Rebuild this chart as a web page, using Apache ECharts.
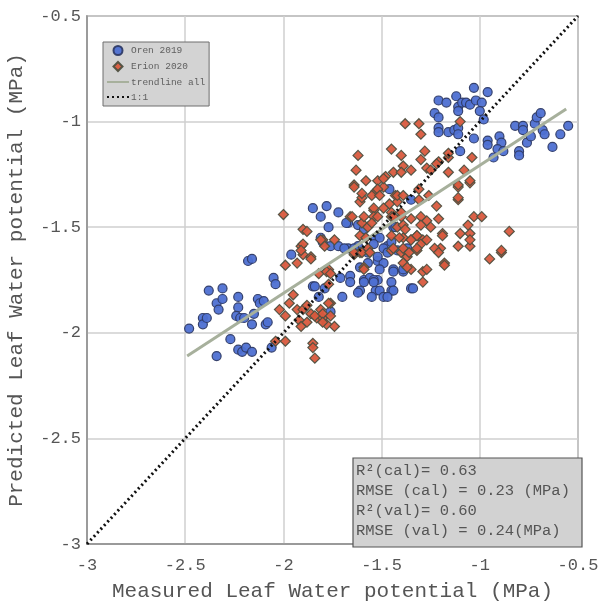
<!DOCTYPE html>
<html>
<head>
<meta charset="utf-8">
<script src="https://cdn.jsdelivr.net/npm/echarts@6/dist/echarts.min.js"></script>
<style>
  html, body { margin: 0; padding: 0; background: #fff; }
  #chart { width: 605px; height: 602px; }
</style>
</head>
<body>
<div id="chart"></div>
<script>
// measured vs predicted leaf water potential (MPa)
const orenPoints = [
  [-2.48,-1.98],[-2.41,-1.93],[-2.41,-1.96],[-2.39,-1.93],[-2.38,-1.80],[-2.34,-1.86],[-2.33,-1.89],[-2.31,-1.79],
  [-2.31,-1.84],[-2.34,-2.11],[-2.27,-2.03],[-2.23,-1.83],[-2.23,-1.88],[-2.24,-1.92],[-2.22,-1.93],[-2.20,-1.93],
  [-2.18,-1.66],[-2.16,-1.65],[-2.16,-1.96],[-2.15,-1.91],[-2.23,-2.08],[-2.21,-2.09],[-2.19,-2.07],[-2.16,-2.09],
  [-2.13,-1.84],[-2.12,-1.86],[-2.10,-1.85],[-2.09,-1.96],[-2.05,-1.74],[-2.04,-1.77],[-2.06,-2.07],[-2.08,-1.95],
  [-1.85,-1.41],[-1.78,-1.40],[-1.81,-1.45],[-1.72,-1.43],[-1.77,-1.50],[-1.81,-1.55],[-1.80,-1.57],[-1.76,-1.59],
  [-1.72,-1.59],[-1.67,-1.60],[-1.67,-1.48],[-1.62,-1.59],[-1.96,-1.63],[-1.85,-1.78],[-1.79,-1.79],[-1.59,-1.75],
  [-1.56,-1.74],[-1.52,-1.75],[-1.57,-1.67],[-1.52,-1.66],[-1.49,-1.67],[-1.44,-1.70],[-1.61,-1.80],[-1.53,-1.80],
  [-1.45,-1.80],[-1.35,-1.79],[-1.39,-1.71],[-1.57,-1.61],[-1.53,-1.55],[-1.51,-1.55],[-1.47,-1.59],[-1.44,-1.50],
  [-1.42,-1.61],[-1.37,-1.60],[-1.62,-1.49],[-1.59,-1.51],[-1.43,-1.50],[-1.69,-1.60],[-1.64,-1.60],[-1.54,-1.58],
  [-1.49,-1.60],[-1.45,-1.57],[-1.57,-1.62],[-1.52,-1.64],[-1.47,-1.62],[-1.61,-1.69],[-1.51,-1.70],[-1.44,-1.71],
  [-1.39,-1.70],[-1.66,-1.73],[-1.54,-1.75],[-1.45,-1.76],[-1.71,-1.74],[-1.66,-1.76],[-1.51,-1.80],[-1.44,-1.80],
  [-1.34,-1.79],[-1.70,-1.83],[-1.62,-1.81],[-1.55,-1.83],[-1.49,-1.83],[-1.47,-1.83],[-1.84,-1.78],[-1.82,-1.83],
  [-1.76,-1.90],[-1.46,-1.32],[-1.35,-1.37],[-1.68,-1.48],[-1.59,-1.76],[-1.54,-1.76],
  [-1.03,-0.84],[-0.96,-0.86],[-1.21,-0.90],[-1.17,-0.91],[-1.12,-0.88],[-1.11,-0.93],[-1.09,-0.91],[-1.07,-0.91],
  [-1.05,-0.92],[-1.02,-0.90],[-0.99,-0.91],[-1.23,-0.96],[-1.21,-0.98],[-1.11,-0.95],[-1.00,-0.95],[-0.98,-0.99],
  [-1.21,-1.03],[-1.21,-1.05],[-1.16,-1.05],[-1.13,-1.04],[-1.11,-1.03],[-1.11,-1.06],[-1.03,-1.08],[-0.96,-1.09],
  [-0.96,-1.11],[-0.90,-1.07],[-0.89,-1.10],[-0.91,-1.13],[-0.88,-1.14],[-0.93,-1.17],[-0.80,-1.14],[-0.80,-1.16],
  [-0.82,-1.02],[-0.78,-1.02],[-0.78,-1.04],[-0.76,-1.10],[-0.74,-1.07],[-0.72,-1.01],[-0.71,-0.98],[-0.69,-0.96],
  [-0.68,-1.04],[-0.67,-1.06],[-0.63,-1.12],[-0.59,-1.06],[-0.55,-1.02],[-1.10,-1.14]
];

const erionPoints = [
  [-1.91,-1.59],[-1.90,-1.63],[-1.86,-1.64],[-1.99,-1.68],[-1.93,-1.67],[-1.95,-1.82],[-1.97,-1.86],[-2.02,-1.89],
  [-1.99,-1.92],[-1.93,-1.89],[-1.90,-1.89],[-1.81,-1.89],[-1.92,-1.94],[-1.88,-1.95],[-1.83,-1.93],[-1.80,-1.93],
  [-1.76,-1.86],[-1.78,-1.96],[-2.04,-2.04],[-1.99,-2.04],[-1.85,-2.05],[-1.85,-2.07],[-1.84,-2.12],[-1.82,-1.72],
  [-1.77,-1.71],[-1.77,-1.77],[-1.80,-1.56],[-1.64,-1.63],[-1.86,-1.91],[-1.84,-1.92],[-1.80,-1.91],[-1.80,-1.95],
  [-1.76,-1.92],[-1.74,-1.97],[-1.91,-1.97],[-1.88,-1.87],
  [-2.00,-1.44],[-1.90,-1.51],[-1.88,-1.52],[-1.90,-1.58],[-1.91,-1.61],[-1.86,-1.65],[-1.77,-1.70],[-1.64,-1.30],
  [-1.58,-1.28],[-1.61,-1.38],[-1.66,-1.45],[-1.60,-1.48],[-1.57,-1.50],[-1.54,-1.42],[-1.53,-1.33],[-1.52,-1.28],
  [-1.49,-1.31],[-1.48,-1.26],[-1.44,-1.24],[-1.43,-1.35],[-1.42,-1.38],[-1.45,-1.43],[-1.42,-1.50],[-1.39,-1.49],
  [-1.39,-1.55],[-1.35,-1.56],[-1.32,-1.54],[-1.29,-1.56],[-1.27,-1.47],[-1.21,-1.46],[-1.30,-1.45],[-1.35,-1.46],
  [-1.32,-1.61],[-1.40,-1.62],[-1.45,-1.61],[-1.57,-1.60],[-1.61,-1.62],[-1.37,-1.64],[-1.29,-1.71],[-1.18,-1.67],
  [-1.20,-1.60],[-1.19,-1.53],[-1.59,-1.69],[-1.35,-1.70],
  [-1.38,-1.01],[-1.31,-1.01],[-1.30,-1.06],[-1.10,-1.00],[-1.45,-1.13],[-1.62,-1.16],[-1.63,-1.23],[-1.40,-1.16],
  [-1.39,-1.21],[-1.35,-1.23],[-1.28,-1.14],[-1.30,-1.18],[-1.27,-1.22],[-1.25,-1.23],[-1.21,-1.19],[-1.16,-1.17],
  [-1.16,-1.24],[-1.08,-1.23],[-1.04,-1.17],[-1.05,-1.29],[-1.11,-1.31],[-1.11,-1.37],[-1.22,-1.40],[-1.31,-1.37],
  [-1.26,-1.35],[-1.64,-1.31],[-1.60,-1.36],[-1.03,-1.45],[-0.99,-1.45],[-1.06,-1.49],[-1.10,-1.53],[-1.05,-1.53],
  [-1.11,-1.59],[-1.05,-1.59],[-0.85,-1.52],[-0.89,-1.62],[-0.95,-1.65],
  [-1.40,-1.24],[-1.49,-1.27],[-1.60,-1.34],[-1.55,-1.35],[-1.52,-1.32],[-1.51,-1.35],[-1.46,-1.39],[-1.42,-1.35],
  [-1.39,-1.35],[-1.54,-1.41],[-1.49,-1.41],[-1.22,-1.20],[-1.16,-1.15],[-1.11,-1.30],[-1.05,-1.28],[-1.11,-1.36],
  [-1.31,-1.32],[-1.65,-1.45],[-1.59,-1.45],[-1.54,-1.45],[-1.45,-1.45],[-1.40,-1.45],
  [-1.55,-1.48],[-1.52,-1.45],[-1.44,-1.45],[-1.40,-1.43],[-1.30,-1.49],[-1.25,-1.50],[-1.61,-1.54],[-1.58,-1.55],
  [-1.45,-1.54],[-1.41,-1.55],[-1.38,-1.51],[-1.35,-1.56],[-1.32,-1.54],[-1.30,-1.58],[-1.27,-1.56],[-1.23,-1.60],
  [-1.21,-1.62],[-1.19,-1.54],[-1.44,-1.60],[-1.39,-1.60],[-1.36,-1.62],[-1.32,-1.60],[-1.39,-1.67],[-1.37,-1.69],
  [-1.27,-1.70],[-1.29,-1.76],[-1.79,-1.59],[-1.74,-1.56],[-1.81,-1.56],[-1.64,-1.62],[-1.60,-1.62],[-1.56,-1.62],
  [-1.59,-1.70],[-1.78,-1.71],[-1.76,-1.72],[-1.77,-1.86],[-1.05,-1.56],[-1.18,-1.68],[-0.89,-1.61]
];

const trendX = [-2.49, -0.56];
const trendY = [-2.11, -0.94];
const oneToOne = [-3, -0.5];

const xTicks = [-3, -2.5, -2, -1.5, -1, -0.5];
const yTicks = [-3, -2.5, -2, -1.5, -1, -0.5];

const statsLines = [
  'R²(cal)= 0.63',
  'RMSE (cal) = 0.23 (MPa)',
  'R²(val)= 0.60',
  'RMSE (val) = 0.24(MPa)'
];

const mono = "'Liberation Mono', 'DejaVu Sans Mono', monospace";

const chart = echarts.init(document.getElementById('chart'));

const gridLeft = 87, gridTop = 16, gridRight = 27, gridBottom = 58;

chart.setOption({
  animation: false,
  backgroundColor: '#fff',
  grid: {
    left: gridLeft, top: gridTop, right: gridRight, bottom: gridBottom,
    containLabel: false, outerBoundsMode: 'none',
    show: true, borderColor: '#8c8c8c', borderWidth: 1.5, backgroundColor: '#fff'
  },
  legend: {
    orient: 'vertical',
    left: 103, top: 42,
    padding: [3, 4, 4, 3],
    itemGap: 5,
    itemWidth: 22, itemHeight: 9,
    backgroundColor: '#d3d3d3',
    borderColor: '#6e6e6e', borderWidth: 1,
    textStyle: { fontFamily: mono, fontSize: 9.5, color: '#606060', padding: [0, 0, 0, -3] },
    data: [
      { name: 'Oren 2019', icon: 'circle' },
      { name: 'Erion 2020', icon: 'path://M5,0L10,5L5,10L0,5Z' },
      { name: 'trendline all', itemStyle: { opacity: 0 } },
      { name: '1:1', itemStyle: { opacity: 0 } }
    ]
  },
  xAxis: {
    type: 'value', min: -3, max: -0.5, interval: 0.5,
    name: 'Measured Leaf Water potential (MPa)',
    nameLocation: 'middle', nameGap: 37,
    nameTextStyle: { fontFamily: mono, fontSize: 21, color: '#555' },
    axisLine: { show: true, lineStyle: { color: '#8c8c8c', width: 1.5 } },
    axisTick: { show: false },
    axisLabel: {
      fontFamily: mono, fontSize: 17, color: '#555', margin: 13,
      formatter: v => xTicks.includes(+v.toFixed(1)) ? String(v) : ''
    },
    splitLine: { show: true, lineStyle: { color: '#cfcfcf', width: 1.5 } }
  },
  yAxis: {
    type: 'value', min: -3, max: -0.5, interval: 0.5,
    name: 'Predicted Leaf Water potential (MPa)',
    nameLocation: 'middle', nameGap: 60,
    nameTextStyle: { fontFamily: mono, fontSize: 21, color: '#555' },
    axisLine: { show: true, lineStyle: { color: '#8c8c8c', width: 1.5 } },
    axisTick: { show: false },
    axisLabel: {
      fontFamily: mono, fontSize: 17, color: '#555', margin: 6,
      formatter: v => yTicks.includes(+v.toFixed(1)) ? String(v) : ''
    },
    splitLine: { show: true, lineStyle: { color: '#cfcfcf', width: 1.5 } }
  },
  series: [
    {
      name: 'Oren 2019',
      type: 'scatter',
      symbol: 'circle',
      symbolSize: 9,
      itemStyle: { color: '#4e70d2', borderColor: '#2f3b66', borderWidth: 1.2, opacity: 0.95 },
      data: orenPoints,
      z: 3
    },
    {
      name: 'Erion 2020',
      type: 'scatter',
      symbol: 'diamond',
      symbolSize: 10,
      itemStyle: { color: '#d95a3e', borderColor: '#4f5040', borderWidth: 1.2, opacity: 0.95 },
      data: erionPoints,
      z: 3
    },
    {
      name: 'trendline all',
      type: 'line',
      symbol: 'none',
      lineStyle: { color: '#a7b09c', width: 3 },
      itemStyle: { color: '#a7b09c' },
      data: trendX.map((x, i) => [x, trendY[i]]),
      z: 4
    },
    {
      name: '1:1',
      type: 'line',
      symbol: 'none',
      lineStyle: { color: '#111', width: 3, type: [2, 3] },
      itemStyle: { color: '#111' },
      data: oneToOne.map(v => [v, v]),
      z: 5
    }
  ],
  graphic: [
    {
      type: 'rect',
      shape: { x: 353, y: 458, width: 229, height: 89 },
      style: { fill: '#d2d2d2', stroke: '#555', lineWidth: 1.2 },
      z: 10
    },
    {
      type: 'text',
      left: 356, top: 461,
      style: {
        text: statsLines.join('\n'),
        font: "15.5px 'Liberation Mono', monospace",
        fill: '#555',
        lineHeight: 20
      },
      z: 11
    }
  ]
});
</script>
</body>
</html>
